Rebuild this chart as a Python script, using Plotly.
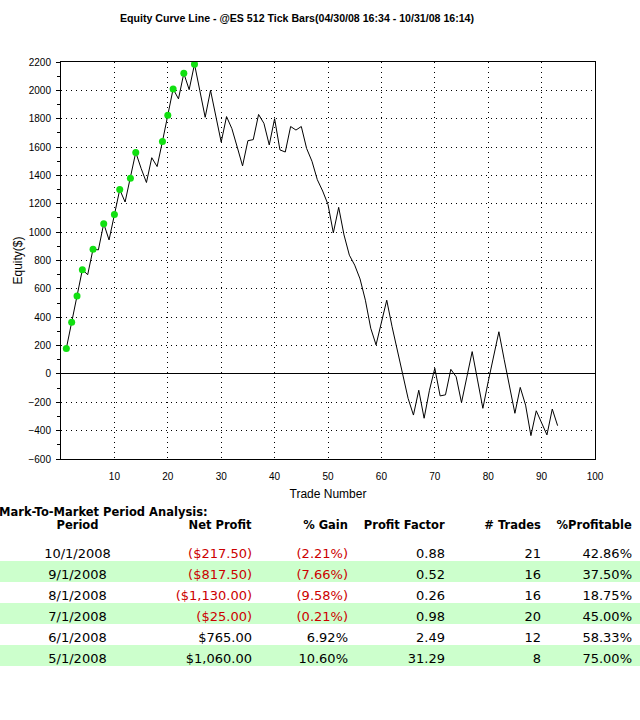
import plotly.graph_objs as go

# Equity after each trade
trade_no = list(range(1, 94))
equity = [180, 365, 550, 735, 700, 880, 875, 1060, 945, 1125,
          1300, 1212.5, 1380, 1562.5, 1450, 1350, 1525, 1462.5, 1640, 1825,
          2010, 1940, 2120, 2005, 2185, 1997.5, 1810, 2000, 1815, 1635,
          1815, 1730, 1600, 1467.5, 1645, 1652.5, 1830, 1767.5, 1615, 1800,
          1580, 1565, 1745, 1720, 1745, 1590, 1500, 1370, 1290, 1195,
          995, 1175, 980, 837.5, 767.5, 670, 520, 322.5, 205, 362.5,
          520, 332.5, 170, 0, -172.5, -290, -115, -312.5, -115, 40,
          -155, -147.5, 32.5, -20, -202.5, -22.5, 157.5, -42.5, -242.5, -55,
          120, 297.5, 100, -90, -277.5, -95, -220, -435, -260, -345,
          -430, -247.5, -365]

# Mark-to-market table
columns = ['Period', 'Net Profit', '% Gain', 'Profit Factor', '# Trades', '%Profitable']
periods = ['10/1/2008', '9/1/2008', '8/1/2008', '7/1/2008', '6/1/2008', '5/1/2008']
net_profit = [-217.50, -817.50, -1130.00, -25.00, 765.00, 1060.00]
pct_gain = [-2.21, -7.66, -9.58, -0.21, 6.92, 10.60]
profit_factor = [0.88, 0.52, 0.26, 0.98, 2.49, 31.29]
num_trades = [21, 16, 16, 20, 12, 8]
pct_profitable = [42.86, 37.50, 18.75, 45.00, 58.33, 75.00]

# new equity highs get a green dot
hi_x, hi_y = [], []
best = None
for t, e in zip(trade_no, equity):
    if best is None or e > best:
        best = e
        hi_x.append(t)
        hi_y.append(e)


def money(v):
    s = '${:,.2f}'.format(abs(v))
    return '(' + s + ')' if v < 0 else s


def pct(v):
    s = '{:.2f}%'.format(abs(v))
    return '(' + s + ')' if v < 0 else s


RED = '#cc0000'
GREEN_ROW = '#ccffcc'
W, H = 640, 720
col_w = [155, 105, 96, 97, 96, 91]
col_align = ['center', 'right', 'right', 'right', 'right', 'right']

line = go.Scatter(x=trade_no, y=equity, mode='lines',
                  line=dict(color='black', width=1), hoverinfo='x+y')
dots = go.Scatter(x=hi_x, y=hi_y, mode='markers',
                  marker=dict(color='#11e011', size=7), hoverinfo='x+y')

n = len(periods)
row_fill = [GREEN_ROW if i % 2 else 'white' for i in range(n)]
neg_col = [RED if v < 0 else 'black' for v in net_profit]
blk = ['black'] * n

# non-breaking spaces keep plotly from wrapping the header labels
head_labels = ['<b>%s</b>' % c.replace(' ', '\u00a0') for c in columns]

table = go.Table(
    domain=dict(x=[0, 1], y=[1 - 690 / H, 1 - 510 / H]),
    columnwidth=col_w,
    header=dict(values=head_labels, align=col_align,
                fill_color='white', line_width=0, height=19,
                font=dict(family='DejaVu Sans', size=11.5, color='black')),
    cells=dict(values=[periods,
                       [money(v) for v in net_profit],
                       [pct(v) for v in pct_gain],
                       ['{:.2f}'.format(v) for v in profit_factor],
                       [str(v) for v in num_trades],
                       ['{:.2f}%'.format(v) for v in pct_profitable]],
               align=col_align,
               fill_color=[row_fill] * 6, line_width=0, height=21,
               font=dict(family='DejaVu Sans', size=13,
                         color=[blk, neg_col, neg_col, blk, blk, blk])),
)

layout = go.Layout(
    width=W, height=H, autosize=False,
    margin=dict(l=0, r=0, t=0, b=0),
    paper_bgcolor='white', plot_bgcolor='white',
    showlegend=False,
    font=dict(family='Liberation Sans', size=10, color='black'),
    title=dict(text='<b>Equity Curve Line - @ES 512 Tick Bars(04/30/08 16:34 - 10/31/08 16:14)</b>',
               x=297 / W, xanchor='center', y=1 - 18 / H, yanchor='middle', yref='container',
               font=dict(family='Liberation Sans', size=10.6, color='black')),
    xaxis=dict(domain=[61 / W, 595 / W], range=[0, 100],
               tickvals=list(range(10, 101, 10)), ticks='', ticklabelstandoff=8,
               showgrid=True, gridcolor='black', gridwidth=1, griddash='1px,4px',
               showline=True, linecolor='black', linewidth=1, mirror=True,
               zeroline=False, automargin=False,
               title=dict(text='Trade Number', standoff=8)),
    yaxis=dict(domain=[1 - 459 / H, 1 - 62 / H], range=[-600, 2200],
               tickvals=list(range(-600, 2201, 200)), ticks='outside', ticklen=4,
               tickcolor='black', ticklabelstandoff=3,
               minor=dict(ticks='outside', ticklen=3, dtick=100, tickcolor='black', showgrid=False),
               showgrid=True, gridcolor='black', gridwidth=1, griddash='1px,4px',
               showline=True, linecolor='black', linewidth=1, mirror=True,
               zeroline=True, zerolinecolor='black', zerolinewidth=1, automargin=False,
               title=dict(text='Equity($)', standoff=3)),
    annotations=[dict(text='<b>Mark-To-Market Period Analysis:</b>', xref='paper', yref='paper',
                      x=210 / W, y=1 - 512 / H, xanchor='right', yanchor='middle',
                      showarrow=False, font=dict(family='DejaVu Sans', size=11.5, color='black'))],
)

fig = go.Figure(data=[line, dots, table], layout=layout)
fig.write_html('out.html', config={'displayModeBar': False},
               post_script="document.body.style.margin='0';")
